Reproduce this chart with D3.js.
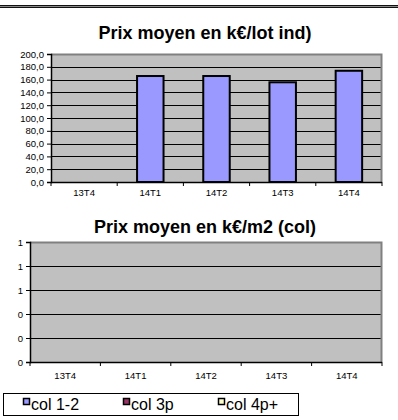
<!DOCTYPE html>
<html>
<head>
<meta charset="utf-8">
<script src="https://cdn.jsdelivr.net/npm/d3@7"></script>
<style>
  html, body { margin: 0; padding: 0; background: #fff; }
  svg { display: block; }
  svg text { font-family: "Liberation Sans", Arial, Helvetica, sans-serif; }
</style>
</head>
<body>
<svg id="chart" width="398" height="420"></svg>
<script>
// Quarters shown on both charts
const categories = ["13T4", "14T1", "14T2", "14T3", "14T4"];
// Average price per individual lot (k€); no value for 13T4
const prixLotInd = [null, 165.6, 165.6, 155.8, 173.8];
// Average price per m² for collective housing (k€) — no data yet
const col12 = [null, null, null, null, null];
const col3p = [null, null, null, null, null];
const col4p = [null, null, null, null, null];
const seriesNames = ["col 1-2", "col 3p", "col 4p+"];
const seriesColors = ["#9999FF", "#993366", "#FFFFCC"];
const topTicks = [0, 20, 40, 60, 80, 100, 120, 140, 160, 180, 200];
const bottomTicks = [0, 0.2, 0.4, 0.6, 0.8, 1];

const fr = d3.formatLocale({ decimal: ",", thousands: " ", grouping: [3], currency: ["", " €"] });
const fmt1 = fr.format(".1f");
const fmt0 = fr.format(".0f");
const FONT = "Liberation Sans, Arial, Helvetica, sans-serif";

const svg = d3.select("#chart").attr("font-family", FONT);

// Header rule
svg.append("rect").attr("x", 0).attr("y", 5).attr("width", 398).attr("height", 3).attr("fill", "#111");
svg.append("rect").attr("x", 0).attr("y", 6).attr("width", 398).attr("height", 1).attr("fill", "#888");

function drawPanel(opts) {
  const { left, right, top, bottom, title, titleY, domain, ticks, tickFmt, series, colors, labelY } = opts;
  const x = d3.scaleBand().domain(categories).range([left, right]);
  const y = d3.scaleLinear().domain(domain).range([bottom, top]);
  const g = svg.append("g");

  // plot background
  g.append("rect").attr("x", left).attr("y", top).attr("width", right - left).attr("height", bottom - top)
    .attr("fill", "#C0C0C0");

  // gridlines
  g.append("g").selectAll("line").data(ticks.slice(1, -1)).join("line")
    .attr("x1", left).attr("x2", right)
    .attr("y1", d => Math.round(y(d)) + 0.5).attr("y2", d => Math.round(y(d)) + 0.5)
    .attr("stroke", "#000").attr("stroke-width", 1);

  // grey frame on top / right
  g.append("path")
    .attr("d", `M${left},${top + 0.5}H${right - 0.5}V${bottom}`)
    .attr("fill", "none").attr("stroke", "#808080").attr("stroke-width", 2);

  // bars
  const n = series.length;
  const inner = x.bandwidth() * 0.4;
  series.forEach((vals, si) => {
    g.append("g").selectAll("rect")
      .data(categories.map((c, i) => ({ c, v: vals[i] })).filter(d => d.v != null))
      .join("rect")
      .attr("x", d => x(d.c) + (x.bandwidth() - inner) / 2 + si * inner / n)
      .attr("width", inner / n)
      .attr("y", d => y(d.v))
      .attr("height", d => y(domain[0]) - y(d.v))
      .attr("fill", colors[si]).attr("stroke", "#000").attr("stroke-width", 2);
  });

  // y axis
  const yAxis = g.append("g").attr("transform", `translate(${left},0)`)
    .call(d3.axisLeft(y).tickValues(ticks).tickFormat(tickFmt).tickSize(4).tickPadding(3))
    .attr("font-family", FONT).attr("font-size", 9.5);
  yAxis.select(".domain").attr("stroke", "#000").attr("stroke-width", 1.5);
  yAxis.selectAll("text").attr("fill", "#000");

  // x axis: ticks at category boundaries
  const xa = g.append("g");
  xa.append("line").attr("x1", left).attr("x2", right).attr("y1", bottom + 0.5).attr("y2", bottom + 0.5)
    .attr("stroke", "#000").attr("stroke-width", 1.5);
  const bounds = categories.map(c => x(c)).concat([right]);
  xa.selectAll("line.tk").data(bounds).join("line").attr("class", "tk")
    .attr("x1", d => d).attr("x2", d => d).attr("y1", bottom).attr("y2", bottom + 4)
    .attr("stroke", "#000");
  xa.selectAll("text").data(categories).join("text")
    .attr("x", d => x(d) + x.bandwidth() / 2).attr("y", labelY)
    .attr("text-anchor", "middle").attr("font-size", 9.5).attr("fill", "#000").text(d => d);

  // title
  svg.append("text").attr("x", 205).attr("y", titleY).attr("text-anchor", "middle")
    .attr("font-size", 18).attr("font-weight", "bold").attr("fill", "#000").text(title);
}

drawPanel({
  left: 51, right: 382, top: 54, bottom: 182,
  title: "Prix moyen en k€/lot ind)", titleY: 39,
  domain: [0, 200], ticks: topTicks, tickFmt: fmt1,
  series: [prixLotInd], colors: [seriesColors[0]], labelY: 196
});

drawPanel({
  left: 30, right: 382, top: 242, bottom: 362,
  title: "Prix moyen en k€/m2 (col)", titleY: 233,
  domain: [0, 1], ticks: bottomTicks, tickFmt: fmt0,
  series: [col12, col3p, col4p], colors: seriesColors, labelY: 379
});

// legend
const lg = svg.append("g");
lg.append("rect").attr("x", 3.5).attr("y", 393.5).attr("width", 295).attr("height", 22)
  .attr("fill", "#fff").attr("stroke", "#000");
const legendX = [23, 123, 218];
seriesNames.forEach((name, i) => {
  lg.append("rect").attr("x", legendX[i] + 0.5).attr("y", 398.5).attr("width", 6).attr("height", 6)
    .attr("fill", seriesColors[i]).attr("stroke", "#000").attr("stroke-width", 1.5);
  lg.append("text").attr("x", legendX[i] + 8).attr("y", 410).attr("font-size", 16).attr("fill", "#000").text(name);
});
</script>
</body>
</html>
